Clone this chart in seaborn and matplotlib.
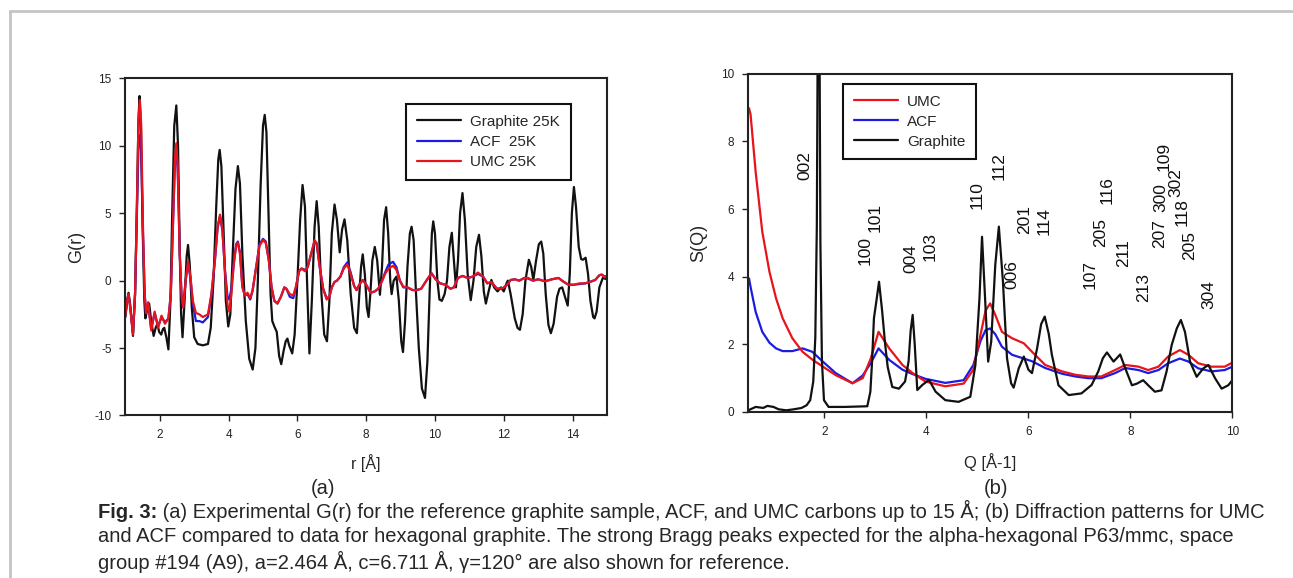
import seaborn as sns
import matplotlib.pyplot as plt
from matplotlib.lines import Line2D

# ---- (a) pair distribution function G(r) ----
r_graphite = [1.00, 1.05, 1.09, 1.14, 1.22, 1.28, 1.33, 1.38, 1.41, 1.45, 1.50, 1.55, 1.58, 1.63,
              1.69, 1.75, 1.82, 1.88, 1.93, 1.98, 2.04, 2.09, 2.13, 2.19, 2.25, 2.31, 2.36, 2.42,
              2.48, 2.53, 2.58, 2.62, 2.66, 2.72, 2.78, 2.82, 2.87, 2.93, 3.00, 3.10, 3.25, 3.40,
              3.48, 3.56, 3.64, 3.70, 3.74, 3.79, 3.85, 3.92, 3.99, 4.05, 4.12, 4.20, 4.27, 4.33,
              4.40, 4.50, 4.60, 4.70, 4.78, 4.85, 4.93, 5.00, 5.05, 5.10, 5.16, 5.22, 5.27, 5.33,
              5.40, 5.47, 5.53, 5.60, 5.66, 5.71, 5.76, 5.85, 5.92, 6.00, 6.08, 6.15, 6.22, 6.28,
              6.35, 6.42, 6.50, 6.56, 6.62, 6.70, 6.78, 6.86, 6.93, 7.00, 7.08, 7.15, 7.23, 7.30,
              7.37, 7.45, 7.55, 7.65, 7.73, 7.80, 7.85, 7.90, 7.96, 8.02, 8.07, 8.12, 8.18, 8.25,
              8.32, 8.40, 8.46, 8.52, 8.58, 8.64, 8.70, 8.74, 8.80, 8.88, 8.95, 9.02, 9.07, 9.13,
              9.20, 9.27, 9.32, 9.38, 9.45, 9.53, 9.62, 9.71, 9.78, 9.85, 9.91, 9.95, 10.00, 10.07,
              10.13, 10.20, 10.28, 10.35, 10.42, 10.49, 10.55, 10.61, 10.67, 10.73, 10.80, 10.87,
              10.95, 11.04, 11.12, 11.20, 11.28, 11.35, 11.42, 11.48, 11.56, 11.64, 11.72, 11.82,
              11.92, 12.00, 12.08, 12.12, 12.20, 12.32, 12.40, 12.47, 12.55, 12.63, 12.73, 12.80,
              12.86, 12.94, 13.02, 13.09, 13.15, 13.22, 13.30, 13.37, 13.45, 13.55, 13.62, 13.70,
              13.78, 13.86, 13.92, 13.98, 14.04, 14.10, 14.18, 14.25, 14.30, 14.38, 14.45, 14.52,
              14.60, 14.64, 14.70, 14.78, 14.88, 15.00]
g_graphite = [-2.7, -1.5, -0.9, -1.8, -4.1, -1.0, 5.0, 12.0, 13.7, 11.5, 4.0, -1.5, -2.8, -2.2,
              -1.7, -3.0, -4.1, -3.5, -3.2, -3.8, -4.0, -3.6, -3.5, -4.2, -5.1, -1.5, 5.0, 11.5,
              13.0, 10.0, 2.0, -2.5, -4.2, -1.5, 1.8, 2.65, 1.2, -2.0, -4.2, -4.7, -4.8, -4.7,
              -3.5, 0.0, 5.5, 9.0, 9.7, 8.5, 4.0, -1.5, -3.4, -2.5, 2.0, 6.8, 8.5, 7.2,
              2.0, -3.0, -5.8, -6.6, -5.0, 0.0, 7.0, 11.5, 12.3, 11.0, 5.0, -1.0, -3.0, -3.4,
              -3.8, -5.6, -6.2, -5.2, -4.5, -4.3, -4.8, -5.4, -4.0, 0.0, 4.5, 7.1, 5.5, 0.0,
              -5.4, -1.5, 4.0, 5.9, 4.0, -1.0, -4.0, -4.5, -1.5, 3.5, 5.65, 4.5, 2.1, 3.8,
              4.55, 3.0, -1.0, -3.5, -3.9, -1.0, 1.0, 1.95, 0.5, -2.0, -2.7, -1.0, 1.5, 2.5,
              1.5, -1.05, 1.0, 4.5, 5.45, 3.5, 0.0, -1.0, 0.0, 0.3, -1.5, -4.5, -5.3, -3.0,
              1.0, 3.5, 4.0, 3.0, -1.0, -5.0, -8.0, -8.7, -6.0, -0.5, 3.5, 4.4, 3.5, 0.0,
              -1.4, -1.5, -1.0, 0.0, 2.5, 3.55, 1.5, -0.5, 1.5, 5.0, 6.5, 4.5,
              0.5, -1.45, 0.0, 2.5, 3.4, 1.8, -0.8, -1.7, -0.8, 0.05, -0.5, -0.8,
              -0.5, -0.8, -0.2, 0.0, -1.0, -2.8, -3.5, -3.65, -2.5, 0.0, 1.55, 1.0,
              0.05, 1.5, 2.7, 2.9, 2.0, -1.0, -3.3, -3.9, -3.2, -1.2, -0.6, -0.5,
              -1.2, -1.85, 0.5, 5.0, 6.95, 5.5, 2.5, 1.6, 1.55, 1.7, 0.5, -1.5,
              -2.7, -2.8, -2.3, -0.5, 0.2, 0.1]

r_carbon = [1.00, 1.05, 1.09, 1.14, 1.22, 1.28, 1.33, 1.38, 1.42, 1.46, 1.51, 1.56, 1.60, 1.66,
            1.75, 1.85, 1.95, 2.05, 2.15, 2.25, 2.32, 2.38, 2.44, 2.48, 2.52, 2.58, 2.63, 2.68,
            2.75, 2.82, 2.89, 2.96, 3.05, 3.15, 3.25, 3.40, 3.50, 3.60, 3.68, 3.75, 3.82, 3.90,
            3.97, 4.02, 4.08, 4.15, 4.22, 4.27, 4.33, 4.40, 4.47, 4.55, 4.63, 4.70, 4.80, 4.90,
            5.00, 5.08, 5.17, 5.25, 5.33, 5.42, 5.52, 5.62, 5.68, 5.78, 5.88, 5.95, 6.05, 6.12,
            6.22, 6.30, 6.40, 6.50, 6.56, 6.65, 6.75, 6.85, 6.93, 7.00, 7.08, 7.15, 7.25, 7.35,
            7.45, 7.55, 7.65, 7.72, 7.80, 7.90, 8.00, 8.13, 8.25, 8.35, 8.45, 8.55, 8.65, 8.78,
            8.88, 8.98, 9.08, 9.20, 9.35, 9.47, 9.60, 9.75, 9.90, 10.02, 10.15, 10.30, 10.45,
            10.55, 10.67, 10.80, 10.95, 11.10, 11.25, 11.40, 11.52, 11.64, 11.80, 11.98, 12.10,
            12.20, 12.32, 12.45, 12.60, 12.71, 12.85, 13.00, 13.20, 13.40, 13.59, 13.75, 13.88,
            14.05, 14.20, 14.37, 14.50, 14.66, 14.78, 14.85, 14.93, 15.00]
g_umc = [-2.5, -1.5, -1.0, -2.0, -4.0, -1.0, 5.0, 12.0, 13.4, 11.5, 4.0, -1.0, -2.4, -1.6,
         -3.7, -2.3, -3.5, -2.6, -3.2, -2.8, -1.0, 4.0, 9.0, 10.2, 8.5, 2.0, -1.0, -2.0,
         0.0, 1.4, 0.3, -1.5, -2.4, -2.5, -2.7, -2.5, -1.0, 1.5, 4.0, 4.9, 3.8, 0.5,
         -1.8, -2.3, -1.0, 1.2, 2.6, 2.8, 2.0, -0.5, -1.1, -0.9, -1.3, -0.7, 1.0, 2.6,
         3.0, 2.8, 1.5, -0.5, -1.5, -1.7, -1.2, -0.5, -0.6, -1.0, -1.1, -0.5, 0.7, 0.9,
         0.7, 1.0, 2.0, 3.0, 2.8, 1.0, -0.6, -1.4, -1.2, -0.5, -0.1, 0.0, 0.3, 0.9,
         1.2, 0.5, -0.4, -0.7, -0.3, 0.05, -0.3, -0.9, -0.8, -0.6, -0.1, 0.5, 0.9, 1.1,
         0.8, 0.0, -0.45, -0.5, -0.7, -0.7, -0.6, 0.0, 0.55, 0.1, -0.2, -0.3, -0.6,
         -0.5, 0.2, 0.35, 0.2, 0.3, 0.6, 0.3, -0.2, -0.1, -0.6, -0.55, -0.3,
         0.05, 0.1, 0.0, 0.2, 0.2, 0.0, 0.1, -0.05, 0.1, 0.2, -0.1, -0.3,
         -0.3, -0.2, -0.2, -0.1, 0.05, 0.4, 0.45, 0.25, 0.3]
g_acf = [-2.5, -1.5, -1.0, -2.0, -3.9, -1.0, 4.5, 10.0, 10.8, 9.5, 3.5, -1.0, -2.4, -1.7,
         -3.6, -2.4, -3.4, -2.7, -3.1, -2.8, -1.0, 4.0, 8.8, 9.8, 8.2, 2.0, -1.0, -2.0,
         0.0, 1.3, 0.2, -1.7, -3.0, -3.0, -3.1, -2.7, -1.1, 1.4, 3.9, 4.8, 3.7, 0.6,
         -1.2, -1.4, -0.6, 1.3, 2.7, 2.9, 2.1, -0.4, -1.1, -1.0, -1.4, -0.7, 1.0, 2.7,
         3.1, 2.9, 1.5, -0.5, -1.5, -1.7, -1.2, -0.5, -0.6, -1.2, -1.3, -0.6, 0.7, 0.9,
         0.8, 1.0, 2.0, 2.9, 2.7, 1.0, -0.6, -1.3, -1.2, -0.5, -0.1, 0.0, 0.3, 1.0,
         1.35, 0.6, -0.4, -0.7, -0.3, 0.05, -0.3, -0.9, -0.8, -0.6, -0.1, 0.6, 1.2, 1.4,
         1.0, 0.0, -0.5, -0.5, -0.7, -0.7, -0.6, 0.0, 0.55, 0.1, -0.2, -0.3, -0.6,
         -0.5, 0.2, 0.35, 0.2, 0.3, 0.5, 0.3, -0.2, -0.1, -0.6, -0.55, -0.3,
         0.05, 0.1, 0.0, 0.2, 0.15, 0.0, 0.1, -0.05, 0.1, 0.2, -0.1, -0.3,
         -0.3, -0.25, -0.2, -0.1, 0.05, 0.4, 0.45, 0.3, 0.35]

# ---- (b) structure factor S(Q) ----
q_graphite = [0.50, 0.52, 0.65, 0.80, 0.88, 1.00, 1.10, 1.25, 1.40, 1.55, 1.65, 1.72, 1.78, 1.82,
              1.85, 1.87, 1.90, 1.92, 1.95, 1.99, 2.08, 2.40, 2.84, 2.90, 2.93, 2.97, 3.02, 3.07,
              3.13, 3.19, 3.24, 3.33, 3.46, 3.58, 3.65, 3.69, 3.73, 3.77, 3.82, 3.92, 4.05, 4.18,
              4.37, 4.63, 4.86, 4.96, 5.04, 5.09, 5.15, 5.21, 5.27, 5.35, 5.42, 5.50, 5.58, 5.66,
              5.71, 5.81, 5.91, 6.00, 6.07, 6.17, 6.25, 6.32, 6.40, 6.46, 6.59, 6.79, 7.04, 7.24,
              7.37, 7.46, 7.54, 7.67, 7.80, 7.90, 8.03, 8.13, 8.25, 8.35, 8.48, 8.61, 8.71, 8.81,
              8.91, 8.99, 9.07, 9.17, 9.30, 9.43, 9.53, 9.66, 9.79, 9.92, 10.00]
s_graphite = [0.0, 0.06, 0.15, 0.12, 0.18, 0.15, 0.08, 0.05, 0.08, 0.12, 0.2, 0.35, 0.9, 2.2,
              5.5, 12.0, 12.0, 5.0, 1.5, 0.35, 0.15, 0.15, 0.17, 0.6, 1.4, 2.77, 3.3, 3.85,
              3.0, 2.0, 1.33, 0.74, 0.69, 0.9, 1.5, 2.4, 2.87, 2.0, 0.65, 0.8, 0.95, 0.6,
              0.35, 0.3, 0.45, 1.39, 3.36, 5.18, 3.36, 1.49, 2.08, 4.35, 5.48, 3.86, 1.59, 0.85,
              0.72, 1.29, 1.64, 1.25, 1.15, 1.88, 2.6, 2.82, 2.3, 1.69, 0.79, 0.5, 0.55, 0.8,
              1.2, 1.59, 1.76, 1.49, 1.7, 1.29, 0.79, 0.84, 0.94, 0.79, 0.6, 0.64, 1.2, 1.98,
              2.47, 2.72, 2.37, 1.49, 1.04, 1.29, 1.39, 1.0, 0.69, 0.79, 0.94]

q_carbon = [0.52, 0.55, 0.65, 0.78, 0.92, 1.05, 1.18, 1.37, 1.57, 1.76, 1.96, 2.22, 2.55, 2.75,
            2.91, 3.06, 3.27, 3.53, 3.73, 3.98, 4.37, 4.73, 4.92, 5.06, 5.16, 5.25, 5.35, 5.48,
            5.68, 5.91, 6.07, 6.33, 6.66, 6.92, 7.17, 7.43, 7.70, 7.90, 8.16, 8.35, 8.55, 8.74,
            8.97, 9.14, 9.33, 9.59, 9.85, 10.00]
s_umc = [8.98, 8.8, 7.1, 5.33, 4.15, 3.36, 2.77, 2.18, 1.78, 1.55, 1.35, 1.09, 0.85, 1.0,
         1.59, 2.37, 1.88, 1.39, 1.15, 0.9, 0.76, 0.84, 1.25, 2.28, 3.0, 3.21, 2.87, 2.37,
         2.18, 2.03, 1.78, 1.39, 1.2, 1.1, 1.05, 1.05, 1.24, 1.39, 1.34, 1.24, 1.34, 1.64,
         1.83, 1.69, 1.44, 1.34, 1.34, 1.46]
s_acf = [3.95, 3.7, 2.96, 2.37, 2.05, 1.88, 1.80, 1.80, 1.88, 1.78, 1.50, 1.15, 0.85, 1.08,
         1.45, 1.88, 1.54, 1.25, 1.12, 0.98, 0.86, 0.94, 1.39, 2.1, 2.42, 2.47, 2.3, 1.93,
         1.69, 1.58, 1.50, 1.30, 1.13, 1.05, 1.0, 1.0, 1.15, 1.30, 1.24, 1.15, 1.24, 1.44,
         1.58, 1.49, 1.29, 1.2, 1.24, 1.34]

# Bragg reflections for hexagonal graphite (label, Q, height of label)
hkl_labels = ['002', '100', '101', '004', '103', '110', '112', '006', '201', '114', '107',
              '205', '116', '211', '213', '207', '300', '109', '302', '118', '205', '304']
hkl_q = [1.62, 2.80, 3.00, 3.70, 4.08, 4.99, 5.42, 5.68, 5.92, 6.31, 7.21,
         7.42, 7.54, 7.86, 8.25, 8.58, 8.60, 8.67, 8.89, 9.01, 9.16, 9.54]
hkl_s = [7.27, 4.77, 5.75, 4.55, 4.88, 6.40, 7.27, 4.06, 5.70, 5.64, 4.06,
         5.31, 6.57, 4.71, 3.68, 5.26, 6.35, 7.55, 6.78, 5.91, 4.93, 3.46]

RED = '#e8131b'
BLUE = '#1c1ce0'
BLACK = '#111111'

sns.set_style('ticks')
plt.rcParams['font.family'] = ['Liberation Sans', 'DejaVu Sans']
plt.rcParams['axes.unicode_minus'] = False

fig = plt.figure(figsize=(12.93, 5.78), dpi=100)
ax1 = fig.add_axes([0.0970, 0.2813, 0.3724, 0.5829])
ax2 = fig.add_axes([0.5785, 0.2872, 0.3746, 0.5853])

lw = 1.6
sns.lineplot(x=r_graphite, y=g_graphite, ax=ax1, color=BLACK, lw=lw, sort=False, estimator=None)
sns.lineplot(x=r_carbon, y=g_acf, ax=ax1, color=BLUE, lw=lw, sort=False, estimator=None)
sns.lineplot(x=r_carbon, y=g_umc, ax=ax1, color=RED, lw=lw, sort=False, estimator=None)

sns.lineplot(x=q_carbon, y=s_acf, ax=ax2, color=BLUE, lw=lw, sort=False, estimator=None)
sns.lineplot(x=q_carbon, y=s_umc, ax=ax2, color=RED, lw=lw, sort=False, estimator=None)
sns.lineplot(x=q_graphite, y=s_graphite, ax=ax2, color=BLACK, lw=lw, sort=False, estimator=None)

for lab, q, s in zip(hkl_labels, hkl_q, hkl_s):
    ax2.text(q, s, lab, rotation=90, ha='center', va='center', fontsize=12.5, color='#111111')

ax1.set_xlim(1, 15)
ax1.set_ylim(-10, 15)
ax1.set_xticks([2, 4, 6, 8, 10, 12, 14])
ax1.set_yticks([-10, -5, 0, 5, 10, 15])
ax2.set_xlim(0.5, 10)
ax2.set_ylim(0, 10)
ax2.set_xticks([2, 4, 6, 8, 10])
ax2.set_yticks([0, 2, 4, 6, 8, 10])

for ax in (ax1, ax2):
    for sp in ax.spines.values():
        sp.set_linewidth(1.5)
        sp.set_color('#222222')
    ax.tick_params(labelsize=8.5, length=4, width=1, colors='#222222', pad=6)

ax1.set_xlabel('r [Å]', fontsize=11.5)
ax1.set_ylabel('G(r)', fontsize=13)
ax1.xaxis.set_label_coords(0.5, -0.115)
ax1.yaxis.set_label_coords(-0.084, 0.5)
ax2.set_xlabel('Q [Å-1]', fontsize=12)
ax2.set_ylabel('S(Q)', fontsize=13)
ax2.xaxis.set_label_coords(0.5, -0.121)
ax2.yaxis.set_label_coords(-0.085, 0.5)

leg_kw = dict(frameon=True, fancybox=False, framealpha=1, edgecolor='#111111', fontsize=11,
              handlelength=2.9, handletextpad=0.6, labelspacing=0.4, borderaxespad=0,
              borderpad=0.7, loc='upper left')
h1 = [Line2D([], [], color=BLACK, lw=lw), Line2D([], [], color=BLUE, lw=lw),
      Line2D([], [], color=RED, lw=lw)]
l1 = ax1.legend(h1, ['Graphite 25K', 'ACF  25K', 'UMC 25K'], bbox_to_anchor=(0.583, 0.924), **leg_kw)
l1.get_frame().set_linewidth(1.5)
h2 = [Line2D([], [], color=RED, lw=lw), Line2D([], [], color=BLUE, lw=lw),
      Line2D([], [], color=BLACK, lw=lw)]
l2 = ax2.legend(h2, ['UMC', 'ACF', 'Graphite'], bbox_to_anchor=(0.196, 0.970), **leg_kw)
l2.get_frame().set_linewidth(1.5)

# panel tags and caption
cap_size = 14.5
fig.text(323 / 1293, 1 - 488 / 578, '(a)', ha='center', va='center', fontsize=cap_size)
fig.text(996 / 1293, 1 - 488 / 578, '(b)', ha='center', va='center', fontsize=cap_size)

x0 = 98 / 1293
bold = fig.text(x0, 1 - 512 / 578, 'Fig. 3:', ha='left', va='center', fontsize=cap_size,
                fontweight='bold')
ax2.annotate(' (a) Experimental G(r) for the reference graphite sample, ACF, and UMC carbons '
             'up to 15 Å; (b) Diffraction patterns for UMC',
             xy=(1, 0), xycoords=bold, ha='left', va='bottom', fontsize=cap_size,
             annotation_clip=False)
fig.text(x0, 1 - 537 / 578, 'and ACF compared to data for hexagonal graphite. The strong Bragg '
         'peaks expected for the alpha-hexagonal P63/mmc, space', ha='left', va='center',
         fontsize=cap_size)
fig.text(x0, 1 - 562 / 578, 'group #194 (A9), a=2.464 Å, c=6.711 Å, γ=120° are also shown for '
         'reference.', ha='left', va='center', fontsize=cap_size)

# thin grey page frame
fig.add_artist(Line2D([10 / 1293, 1], [1 - 11 / 578] * 2, color='#c4c4c4', lw=2,
                      transform=fig.transFigure))
fig.add_artist(Line2D([10 / 1293] * 2, [0, 1 - 11 / 578], color='#c4c4c4', lw=2,
                      transform=fig.transFigure))

plt.savefig('out.png', dpi=100)
